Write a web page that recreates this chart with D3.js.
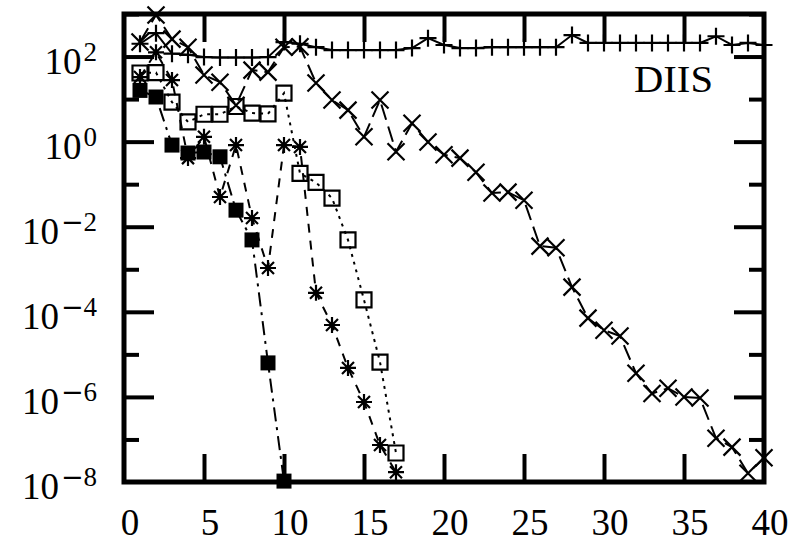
<!DOCTYPE html>
<html>
<head>
<meta charset="utf-8">
<script src="https://cdn.jsdelivr.net/npm/d3@7"></script>
<style>
  html, body { margin: 0; padding: 0; background: #fff; }
  svg { display: block; }
  text { font-family: "Liberation Serif", "Times New Roman", serif; fill: #000; }
</style>
</head>
<body>
<svg id="chart" width="792" height="544"></svg>
<script>
// ---------------- data ----------------
const plusX = d3.range(1, 41);
const plusY = [200, 355, 117, 110, 97, 95, 95, 95, 97, 219,
               200, 166, 142, 142, 142, 142, 142, 158, 270, 187,
               158, 158, 166, 166, 166, 166, 166, 320, 209, 209,
               209, 209, 209, 209, 209, 209, 300, 187, 209, 187];

const crossX = d3.range(1, 41);
const crossY = [219, 950, 257, 166, 37, 25, 7.2, 48, 43, 166,
                170, 24, 9.5, 5.5, 1.3, 9.5, 0.58, 2.7, 0.98, 0.49,
                0.41, 0.19, 0.062, 0.065, 0.042, 0.0035, 0.0032, 3.8e-4, 7.1e-5, 3.7e-5,
                2.7e-5, 3.6e-6, 1.2e-6, 1.6e-6, 1.0e-6, 9.4e-7, 1.07e-7, 6.6e-8, 1.6e-8, 3.7e-8];

const openSqX = d3.range(1, 18);
const openSqY = [41, 42, 8.5, 2.9, 4.4, 4.4, 6.7, 4.7, 4.5, 13.8,
                 0.18, 0.11, 0.047, 0.0049, 1.9e-4, 6.6e-6, 4.8e-8];

const starX = d3.range(1, 18);
const starY = [33, 126, 28, 0.41, 1.3, 0.05, 0.83, 0.016, 1.07e-3, 0.83,
               0.75, 2.8e-4, 4.9e-5, 4.8e-6, 7.6e-7, 7.4e-8, 1.7e-8];

const fillSqX = d3.range(1, 11);
const fillSqY = [16, 11.2, 0.83, 0.54, 0.57, 0.44, 0.0245, 0.0049, 6.3e-6, 1.05e-8];

const xTicks = [0, 5, 10, 15, 20, 25, 30, 35, 40];
const yDecades = d3.range(-8, 4);          // 1e-8 ... 1e3
const yLabelExps = [2, 0, -2, -4, -6, -8];
const annotation = "DIIS";

// ---------------- layout ----------------
const svg = d3.select("#chart");
const L = 124, R = 764, T = 14, B = 482;
const x = d3.scaleLinear().domain([0, 40]).range([L, R]);
const y = d3.scaleLog().domain([1e-8, 1e3]).range([B, T]);

svg.append("rect").attr("width", 792).attr("height", 544).attr("fill", "#fff");

// ---------------- ticks (inside, all sides) ----------------
const tickW = 4;
const g = svg.append("g");
function styleAxis(sel) {
  sel.select(".domain").remove();
  sel.selectAll("text").remove();
  sel.selectAll("line").attr("stroke", "#000").attr("stroke-width", tickW);
}
g.append("g").attr("transform", `translate(0,${B})`)
  .call(d3.axisBottom(x).tickValues(xTicks.slice(1, -1)).tickSizeInner(-28).tickSizeOuter(0))
  .call(styleAxis);
g.append("g").attr("transform", `translate(0,${T})`)
  .call(d3.axisTop(x).tickValues(xTicks.slice(1, -1)).tickSizeInner(-28).tickSizeOuter(0))
  .call(styleAxis);

const majorY = yDecades.filter(e => e % 2 === 0 && e > -8).map(e => Math.pow(10, e));
const minorY = yDecades.filter(e => e % 2 !== 0).map(e => Math.pow(10, e));
[[d3.axisLeft, L], [d3.axisRight, R]].forEach(([ax, pos]) => {
  g.append("g").attr("transform", `translate(${pos},0)`)
    .call(ax(y).tickValues(majorY).tickSizeInner(-30).tickSizeOuter(0))
    .call(styleAxis);
  g.append("g").attr("transform", `translate(${pos},0)`)
    .call(ax(y).tickValues(minorY).tickSizeInner(-15).tickSizeOuter(0))
    .call(styleAxis);
});

// ---------------- tick labels ----------------
svg.append("g").selectAll("text").data(xTicks).join("text")
  .attr("x", d => x(d) + 6).attr("y", 535)
  .attr("text-anchor", "middle").attr("font-size", 37)
  .text(d => d);

const yl = svg.append("g").selectAll("text").data(yLabelExps).join("text")
  .attr("x", 97).attr("y", d => y(Math.pow(10, d)) + 17)
  .attr("text-anchor", "end").attr("font-size", 37);
yl.append("tspan").text("10");
const sup = yl.append("tspan").attr("font-size", 27).attr("dy", -13).attr("dx", 2);
sup.filter(d => d < 0).append("tspan").attr("font-family", "DejaVu Sans").text("\u2212");
sup.append("tspan").text(d => Math.abs(d));

svg.append("text").attr("x", 713).attr("y", 92).attr("text-anchor", "end")
  .attr("font-size", 37).attr("textLength", 79).attr("lengthAdjust", "spacingAndGlyphs")
  .text(annotation);

// ---------------- series ----------------
const plot = svg.append("g");
const line = d3.line().x(d => x(d[0])).y(d => y(d[1]));

function marker(type) {
  const h = 8.5;
  switch (type) {
    case "plus": return `M${-h},0H${h}M0,${-h}V${h}`;
    case "cross": return `M${-h},${-h}L${h},${h}M${-h},${h}L${h},${-h}`;
    case "star": { const a = 8, b = 6;
      return `M${-a},0H${a}M0,${-a}V${a}M${-b},${-b}L${b},${b}M${-b},${b}L${b},${-b}`; }
    case "open": return "M-7.5,-7.5H7.5V7.5H-7.5Z";
    case "filled": return "M-7.5,-7.5H7.5V7.5H-7.5Z";
  }
}

const series = [
  { xs: plusX,   ys: plusY,   dash: null,          m: "plus" },
  { xs: crossX,  ys: crossY,  dash: "16,7",        m: "cross" },
  { xs: openSqX, ys: openSqY, dash: "3,5",         m: "open" },
  { xs: starX,   ys: starY,   dash: "9,8",         m: "star" },
  { xs: fillSqX, ys: fillSqY, dash: "14,6,3,6",    m: "filled" }
];

series.forEach(s => {
  const pts = s.xs.map((v, i) => [v, s.ys[i]]);
  plot.append("path").datum(pts).attr("d", line)
    .attr("fill", "none").attr("stroke", "#000").attr("stroke-width", 2)
    .attr("stroke-dasharray", s.dash);
  plot.append("g").selectAll("path").data(pts).join("path")
    .attr("transform", d => `translate(${x(d[0])},${y(d[1])})`)
    .attr("d", marker(s.m))
    .attr("fill", s.m === "filled" ? "#000" : "none")
    .attr("stroke", "#000").attr("stroke-width", s.m === "filled" ? 0 : 2.2);
});

// ---------------- frame ----------------
svg.append("rect").attr("x", L).attr("y", T).attr("width", R - L).attr("height", B - T)
  .attr("fill", "none").attr("stroke", "#000").attr("stroke-width", 5);
</script>
</body>
</html>
